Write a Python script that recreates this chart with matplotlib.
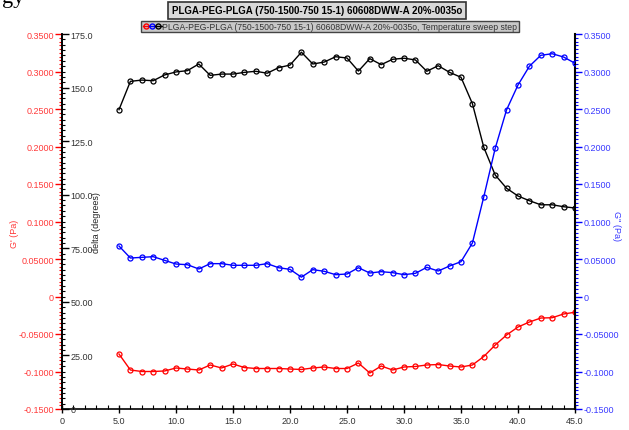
import matplotlib
matplotlib.use("Agg")
import matplotlib.pyplot as plt
from matplotlib.ticker import FixedLocator, MultipleLocator
from matplotlib.lines import Line2D
from matplotlib.legend_handler import HandlerTuple

plt.rcParams['font.family'] = ['Liberation Sans', 'DejaVu Sans']

temperature = list(range(5, 46))
g_prime = [-0.0767, -0.098, -0.100, -0.100, -0.0993, -0.0953, -0.0967, -0.098, -0.0913, -0.0953,
           -0.090, -0.0947, -0.096, -0.096, -0.096, -0.0967, -0.0973, -0.0953, -0.094, -0.096,
           -0.096, -0.0887, -0.102, -0.0927, -0.098, -0.094, -0.0933, -0.0913, -0.0907, -0.0927,
           -0.094, -0.0913, -0.080, -0.0647, -0.0513, -0.0407, -0.034, -0.0287, -0.0283, -0.0233,
           -0.021]
g_double = [0.0673, 0.0513, 0.0522, 0.0531, 0.0482, 0.0433, 0.0424, 0.0367, 0.0438, 0.0438,
            0.0416, 0.0416, 0.0416, 0.0438, 0.0384, 0.0362, 0.0258, 0.0358, 0.0336, 0.0291,
            0.0300, 0.0384, 0.0313, 0.0331, 0.0318, 0.0291, 0.0309, 0.0389, 0.0340, 0.0407,
            0.0464, 0.0713, 0.133, 0.1976, 0.249, 0.282, 0.307, 0.3216, 0.3237, 0.3193,
            0.311]
delta = [139.7, 152.9, 153.5, 153.2, 155.9, 157.3, 157.9, 161.0, 155.7, 156.3,
         156.3, 157.1, 157.6, 156.7, 159.3, 160.5, 166.5, 161.0, 161.9, 164.4,
         163.8, 157.7, 163.5, 160.7, 163.2, 163.7, 162.9, 157.6, 160.2, 157.1,
         154.8, 142.5, 122.1, 109.2, 103.0, 99.4, 97.2, 95.3, 95.3, 94.4,
         93.8]

g_ticks = [-0.15, -0.10, -0.05, 0.0, 0.05, 0.10, 0.15, 0.20, 0.25, 0.30, 0.35]
g_tick_labels = ['-0.1500', '-0.1000', '-0.05000', '0', '0.05000', '0.1000',
                 '0.1500', '0.2000', '0.2500', '0.3000', '0.3500']
d_ticks = [0, 25, 50, 75, 100, 125, 150, 175]
d_tick_labels = ['0', '25.00', '50.00', '75.00', '100.0', '125.0', '150.0', '175.0']
x_ticks = [0, 5, 10, 15, 20, 25, 30, 35, 40, 45]
x_tick_labels = ['0', '5.0', '10.0', '15.0', '20.0', '25.0', '30.0', '35.0', '40.0', '45.0']

title = 'PLGA-PEG-PLGA (750-1500-750 15-1) 60608DWW-A 20%-0035o'
legend_text = 'PLGA-PEG-PLGA (750-1500-750 15-1) 60608DWW-A 20%-0035o, Temperature sweep step'

RED = '#ff0000'
RED_T = '#ff3a3a'
BLUE = '#0000ff'
BLUE_T = '#3a3aff'
FS = 6.5
MS = 3.6

W, H = 629, 431
fig = plt.figure(figsize=(W / 100, H / 100), dpi=100)
ax = fig.add_axes([62 / W, 21 / H, 513 / W, 375 / H])

# Red G' axis (left)
ax.set_xlim(0, 45)
ax.set_ylim(-0.15, 0.35)
ax.plot(temperature, g_prime, color=RED, lw=1, marker='o', ms=MS, mfc='none', mew=0.9, zorder=3)
ax.spines['top'].set_visible(False)
ax.spines['right'].set_visible(False)
ax.spines['left'].set_linewidth(1.2)
ax.spines['bottom'].set_linewidth(1.2)
ax.yaxis.set_major_locator(FixedLocator(g_ticks))
ax.set_yticklabels(g_tick_labels)
ax.yaxis.set_minor_locator(MultipleLocator(0.005))
ax.tick_params(axis='y', which='major', colors=RED, labelcolor=RED_T, labelsize=FS, length=5, width=1, pad=1)
ax.tick_params(axis='y', which='minor', colors=RED, length=2.5, width=0.8)
ax.set_ylabel("G' (Pa)", color=RED_T, fontsize=FS)
ax.yaxis.set_label_coords(-(62 - 19) / 513, 0.47)

ax.xaxis.set_major_locator(FixedLocator(x_ticks))
ax.set_xticklabels(x_tick_labels)
ax.xaxis.set_minor_locator(MultipleLocator(1))
ax.tick_params(axis='x', which='major', direction='inout', length=6, width=1, labelsize=FS, pad=2, colors='black', labelcolor='#333333')
ax.tick_params(axis='x', which='minor', direction='in', length=3, width=0.8)
ax.set_xlabel('temperature (\u00b0C)', fontsize=FS, labelpad=3, color='#333333')

# Black delta axis (on left spine, labels inside)
axd = ax.twinx()
axd.set_ylim(0, 175)
axd.plot(temperature, delta, color='black', lw=1, marker='o', ms=MS, mfc='none', mew=0.9, zorder=3)
axd.spines['right'].set_position(('axes', 0))
axd.spines['right'].set_linewidth(1.2)
for s in ['top', 'left', 'bottom']:
    axd.spines[s].set_visible(False)
axd.yaxis.set_major_locator(FixedLocator(d_ticks))
axd.set_yticklabels(d_tick_labels)
axd.yaxis.set_minor_locator(MultipleLocator(2.5))
axd.tick_params(axis='y', which='major', colors='black', labelcolor='#333333', labelsize=FS, length=5, width=1, pad=1)
axd.tick_params(axis='y', which='minor', colors='black', length=2.5, width=0.8)
axd.set_ylabel('delta (degrees)', fontsize=FS, color='#222222', rotation=90)
axd.yaxis.set_label_coords(0.058, 0.5)

# Blue G'' axis (right)
axb = ax.twinx()
axb.set_ylim(-0.15, 0.35)
axb.plot(temperature, g_double, color=BLUE, lw=1, marker='o', ms=MS, mfc='none', mew=0.9, zorder=3)
for s in ['top', 'left', 'bottom']:
    axb.spines[s].set_visible(False)
axb.spines['right'].set_linewidth(1.5)
axb.yaxis.set_major_locator(FixedLocator(g_ticks))
axb.set_yticklabels(g_tick_labels)
axb.yaxis.set_minor_locator(MultipleLocator(0.005))
axb.tick_params(axis='y', which='major', colors=BLUE, labelcolor=BLUE_T, labelsize=FS, length=5, width=1, pad=1)
axb.tick_params(axis='y', which='minor', colors=BLUE, length=2.5, width=0.8)
axb.set_ylabel("G'' (Pa)", color=BLUE_T, fontsize=FS, rotation=270, va='center')
axb.yaxis.set_label_coords((617 - 62) / 513, 0.49)

# Title box
fig.text(317 / W, 1 - 11.5 / H, title, ha='center', va='center', fontsize=7.0, fontweight='bold',
         bbox=dict(boxstyle='square,pad=0.35', facecolor='#d9d9d9', edgecolor='#333333', lw=1.2))

# Legend
h_r = Line2D([], [], color=RED, marker='o', ms=MS, mfc='none', lw=1)
h_b = Line2D([], [], color=BLUE, marker='o', ms=MS, mfc='none', lw=1)
h_k = Line2D([], [], color='black', marker='o', ms=MS, mfc='none', lw=1)
leg = fig.legend(handles=[(h_r, h_b, h_k)], labels=[legend_text],
                 handler_map={tuple: HandlerTuple(ndivide=None, pad=0)},
                 loc='center', bbox_to_anchor=(330 / W, 1 - 27.5 / H), frameon=True,
                 facecolor='#c8c8c8', edgecolor='#444444', fancybox=False, framealpha=1,
                 fontsize=6.2, handlelength=2.2, handletextpad=0.1, borderpad=0.15,
                 labelcolor='#333333')
leg.get_frame().set_linewidth(1.0)

# Clipped text fragment in top-left corner
fig.text(2 / W, 1 + 2 / H, 'gy', ha='left', va='center', fontsize=16, family='Liberation Serif')

fig.savefig('out.png', dpi=100)
